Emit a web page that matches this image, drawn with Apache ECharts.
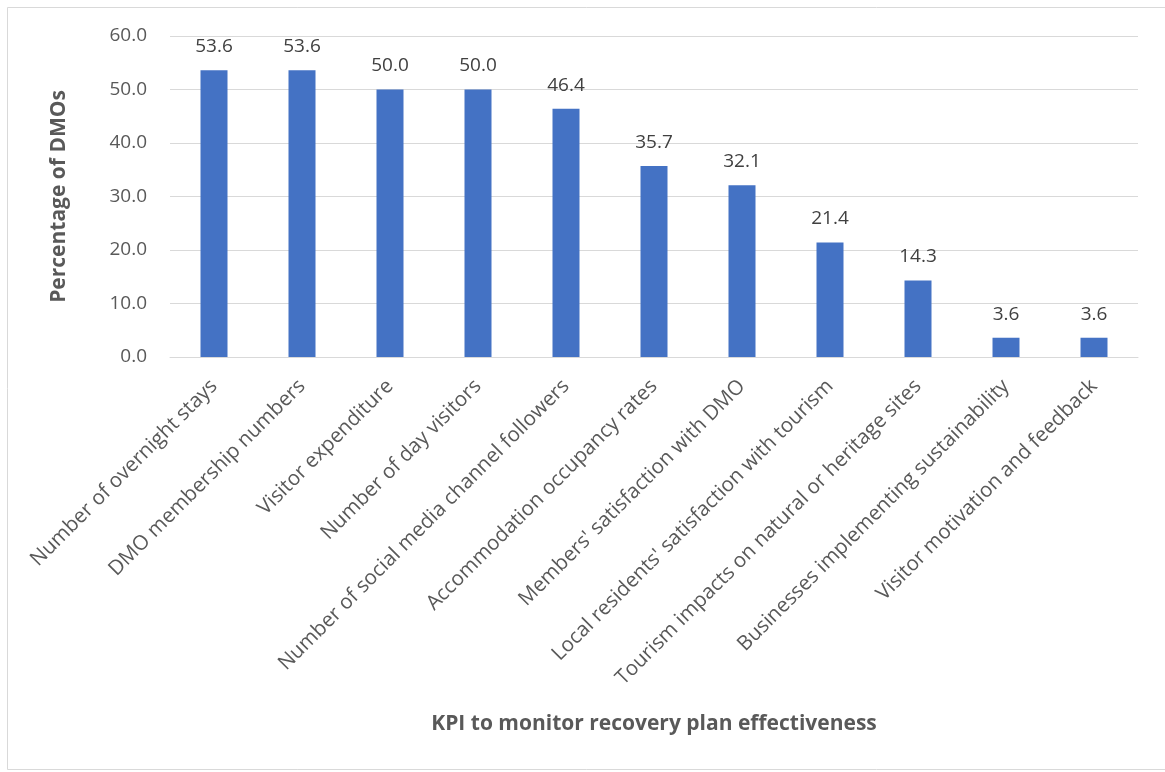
<!DOCTYPE html>
<html>
<head>
<meta charset="utf-8">
<script src="https://cdn.jsdelivr.net/npm/echarts@6/dist/echarts.min.js"></script>
<style>
  html, body { margin: 0; padding: 0; background: #ffffff; }
  #chart { width: 1165px; height: 772px; }
</style>
</head>
<body>
<div id="chart"></div>
<script>
// KPIs used by DMOs to monitor recovery plan effectiveness
const categories = [
  "Number of overnight stays",
  "DMO membership numbers",
  "Visitor expenditure",
  "Number of day visitors",
  "Number of social media channel followers",
  "Accommodation occupancy rates",
  "Members' satisfaction with DMO",
  "Local residents' satisfaction with tourism",
  "Tourism impacts on natural or heritage sites",
  "Businesses implementing sustainability",
  "Visitor motivation and feedback"
];
// Percentage of DMOs using each KPI
const percentages = [53.6, 53.6, 50.0, 50.0, 46.4, 35.7, 32.1, 21.4, 14.3, 3.6, 3.6];
// Value axis range and step
const yMin = 0;
const yMax = 60;
const yStep = 10;

const FONT = "'Open Sans', 'Liberation Sans', sans-serif";
const TEXT = "#595959";
const GRID_GRAY = "#D9D9D9";

const chart = echarts.init(document.getElementById("chart"), null, { renderer: "canvas" });

chart.setOption({
  animation: false,
  backgroundColor: "#ffffff",
  textStyle: { fontFamily: FONT },
  graphic: [{
    type: "rect",
    silent: true,
    shape: { x: 7.5, y: 7.5, width: 1170, height: 762 },
    style: { fill: "none", stroke: GRID_GRAY, lineWidth: 1 }
  }],
  grid: {
    left: 170,
    right: 27,
    top: 36,
    bottom: 415,
    outerBoundsMode: "none"
  },
  xAxis: {
    type: "category",
    data: categories,
    name: "KPI to monitor recovery plan effectiveness",
    nameLocation: "middle",
    nameGap: 357,
    nameTextStyle: {
      fontFamily: FONT,
      fontSize: 21,
      fontWeight: "bold",
      color: TEXT
    },
    axisLine: { show: true, lineStyle: { color: GRID_GRAY, width: 1 } },
    axisTick: { show: false },
    axisLabel: {
      interval: 0,
      rotate: 45,
      margin: 26,
      fontFamily: FONT,
      fontSize: 20.5,
      color: TEXT
    }
  },
  yAxis: {
    type: "value",
    min: yMin,
    max: yMax,
    interval: yStep,
    name: "Percentage of DMOs",
    nameLocation: "middle",
    nameGap: 100,
    nameTextStyle: {
      fontFamily: FONT,
      fontSize: 21,
      fontWeight: "bold",
      color: TEXT
    },
    axisLine: { show: false },
    axisTick: { show: false },
    axisLabel: {
      margin: 23,
      fontFamily: FONT,
      fontSize: 19,
      color: TEXT,
      formatter: (v) => v.toFixed(1)
    },
    splitLine: { show: true, lineStyle: { color: GRID_GRAY, width: 1 } }
  },
  series: [{
    type: "bar",
    data: percentages,
    barWidth: 27,
    itemStyle: { color: "#4472C4" },
    label: {
      show: true,
      position: "top",
      distance: 14,
      fontFamily: FONT,
      fontSize: 19,
      color: "#404040",
      formatter: (p) => p.value.toFixed(1)
    }
  }]
});
</script>
</body>
</html>
